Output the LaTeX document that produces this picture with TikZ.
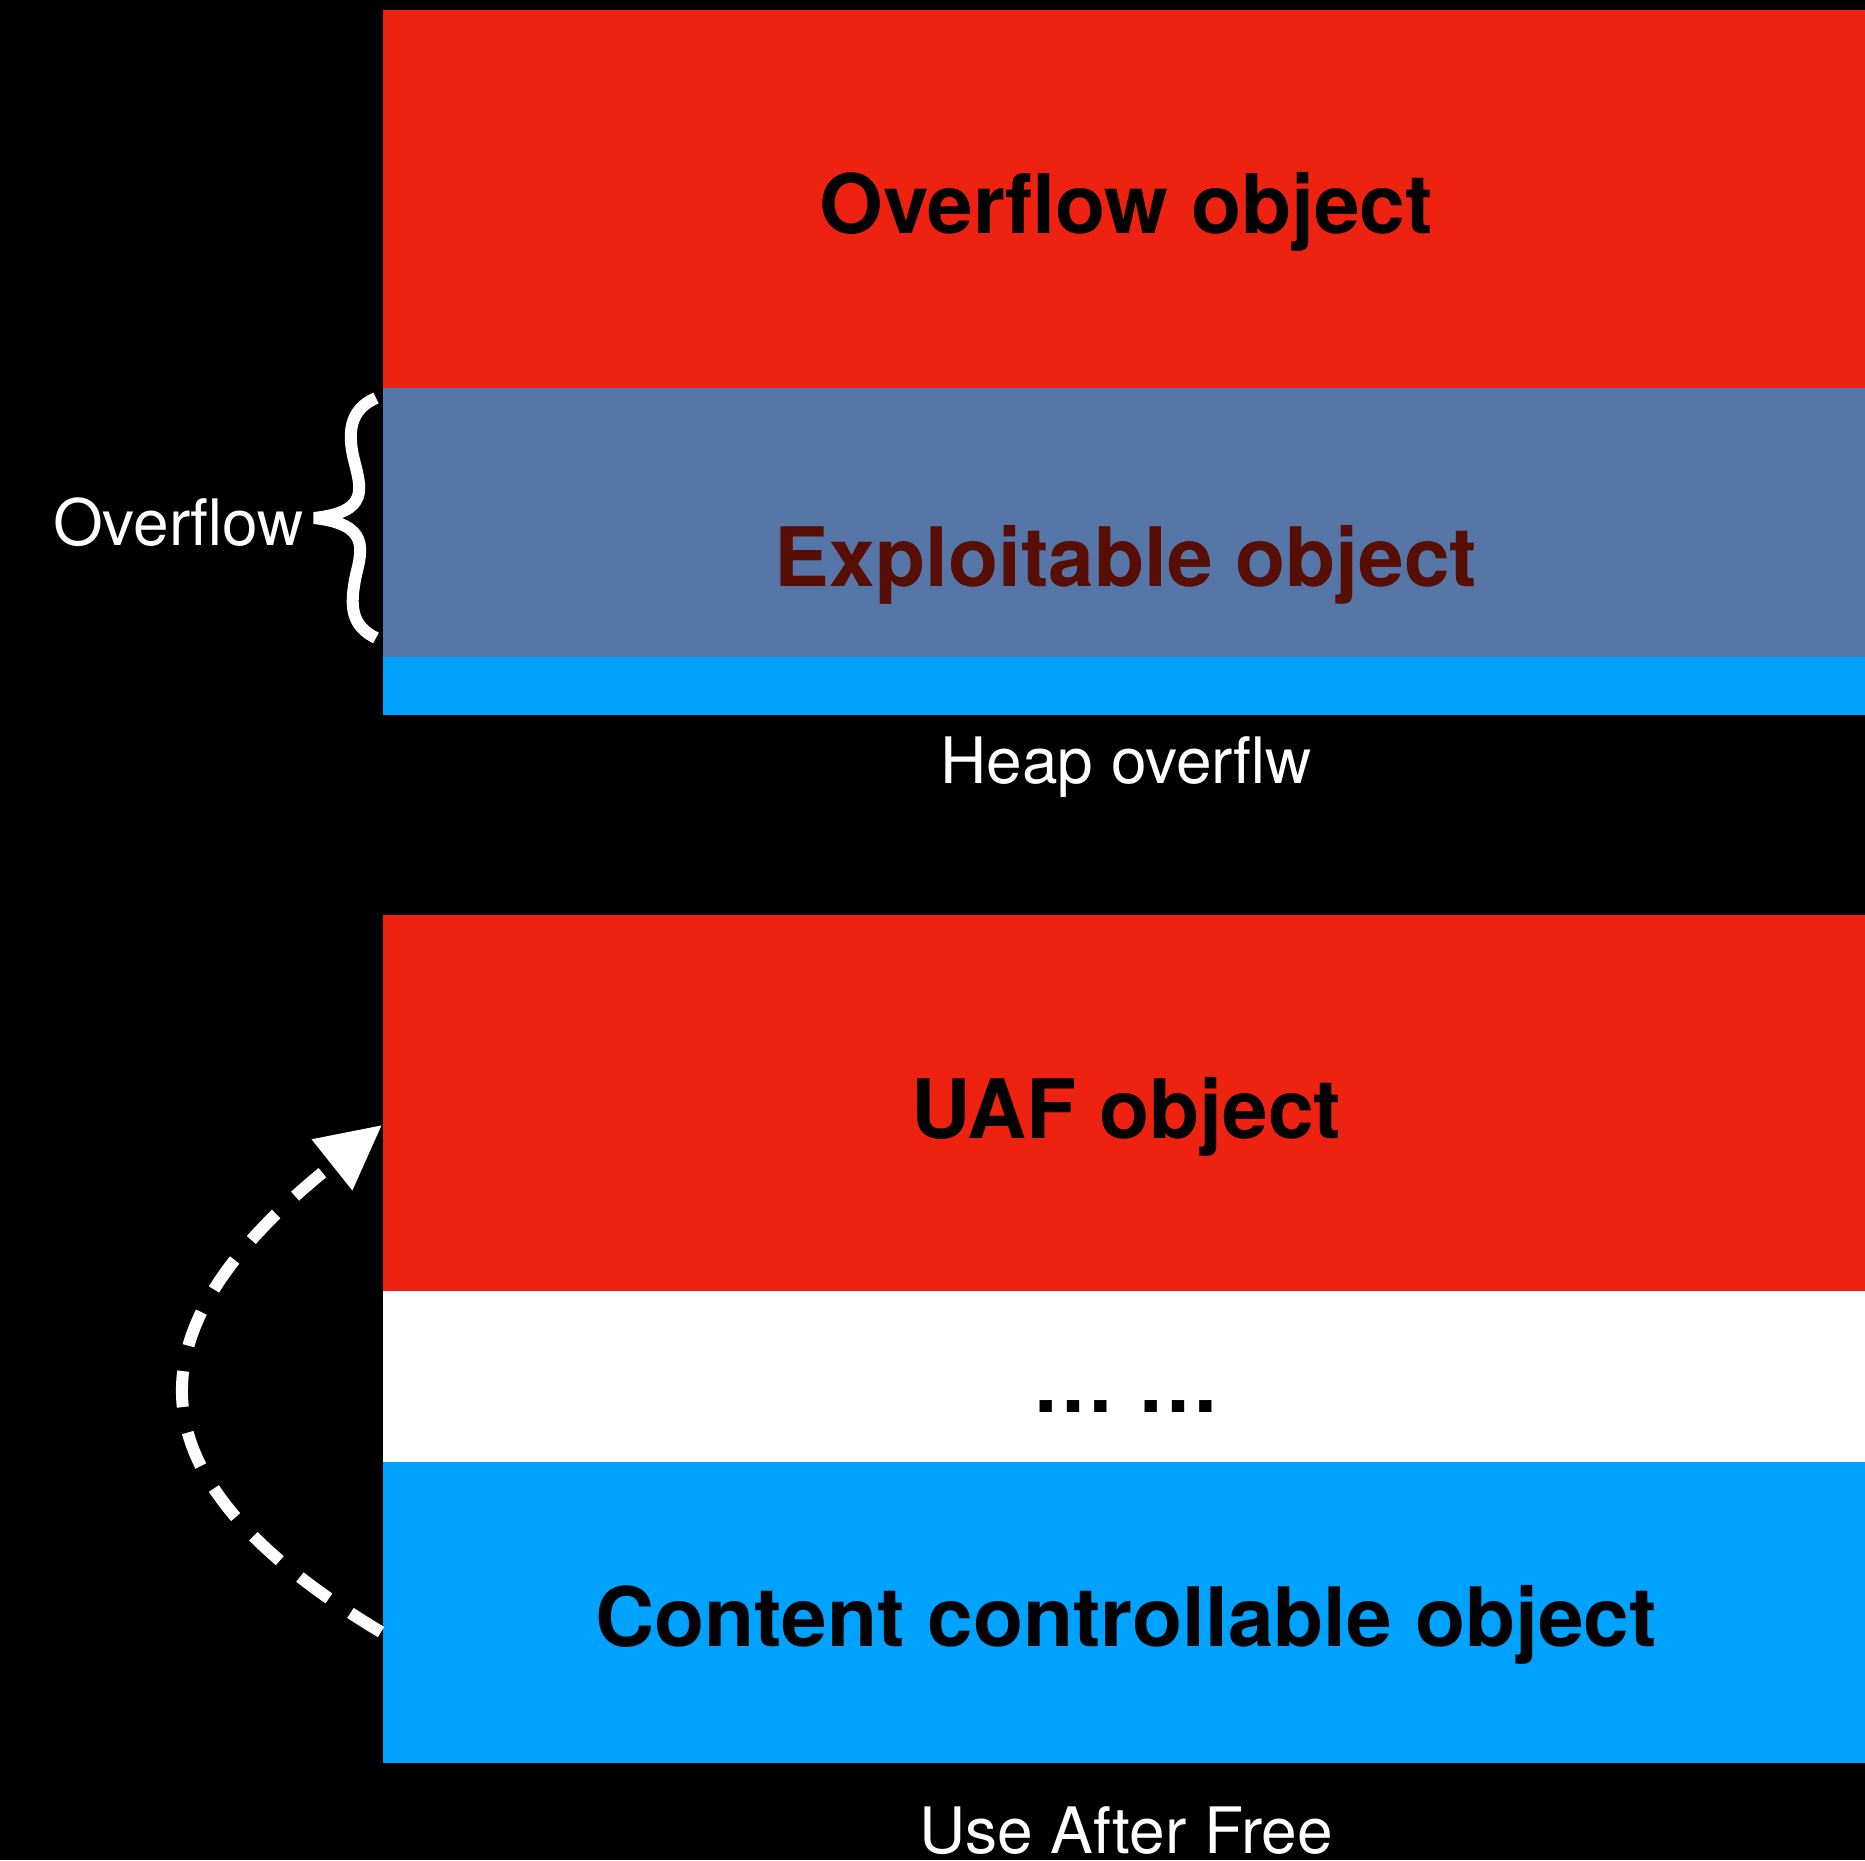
\documentclass[tikz,border=0pt]{standalone}
\usepackage{fontspec}
\setmainfont{TeX Gyre Heros}
\usetikzlibrary{arrows.meta}

\definecolor{objred}{RGB}{238,34,16}
\definecolor{objgray}{RGB}{86,118,168}
\definecolor{objblue}{RGB}{0,162,255}
\definecolor{objdark}{RGB}{87,14,5}

\tikzset{
  objlabel/.style={font=\fontsize{41}{49}\selectfont\bfseries, anchor=base},
  caption/.style={font=\fontsize{32}{38}\selectfont, text=white, anchor=base, inner sep=0pt},
}

\begin{document}
\begin{tikzpicture}[x=0.5pt,y=-0.5pt]
                \useasboundingbox (0,0) rectangle (1865,1860);
                \fill[black] (0,0) rectangle (1865,1860);

                % heap overflow
                \fill[objred] (383,9.5) rectangle (1865,388);
                \fill[objgray] (383,388) rectangle (1865,656.5);
                \fill[objblue] (383,656.5) rectangle (1865,715);
                \node[objlabel] (overobj) at (1126,233) {Overflow object};
                \node[objlabel, text=objdark] (exploit) at (1126,586) {Exploitable object};
                \node[caption] (heapcap) at (1126,783) {Heap overflw};
                \node[caption, anchor=base east] (ovlabel) at (304,545) {Overflow};
                \draw[white, line width=6pt, miter limit=3] (376,398) .. controls (348,410) and (348,435) .. (354,460)
                    .. controls (361,488) and (370,512) .. (314,518)
                    .. controls (370,524) and (362,550) .. (356,575)
                    .. controls (349,608) and (352,626) .. (376,638);

                % use after free
                \fill[objred] (383,914.5) rectangle (1865,1290.5);
                \fill[white] (383,1290.5) rectangle (1865,1462);
                \fill[objblue] (383,1462) rectangle (1865,1762.5);
                \node[objlabel] (uafobj) at (1126,1138) {UAF object};
                \node[objlabel] (dots) at (1126,1412) {… …};
                \node[objlabel] (content) at (1126,1646) {Content controllable object};
                \node[caption] (uafcap) at (1126,1853) {Use After Free};

                \coordinate (uafstart) at (381,1632);
                \coordinate (uafend) at (382,1125);
                \draw[white, line width=6pt, dash pattern=on 18pt off 13pt, -{Triangle[length=32pt,width=31pt]}]
                    (uafstart) .. controls +(-270,-162) and +(-246,196) .. (uafend);
            \end{tikzpicture}
\end{document}
